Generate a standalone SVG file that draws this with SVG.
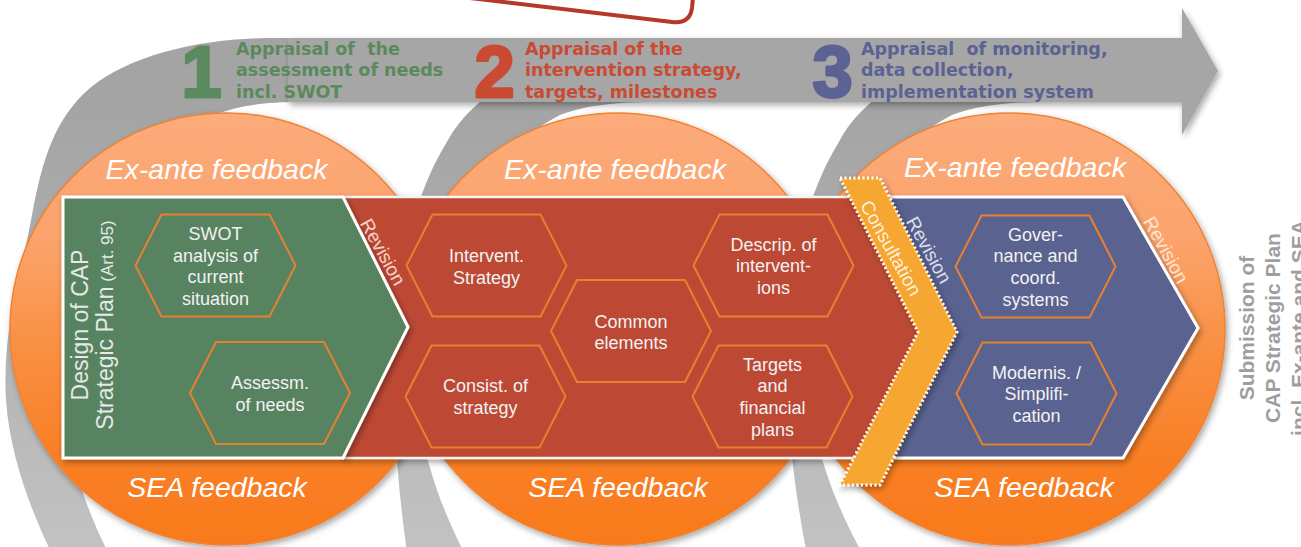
<svg xmlns="http://www.w3.org/2000/svg" xmlns:xlink="http://www.w3.org/1999/xlink" width="1301" height="547" viewBox="0 0 1301 547">
<defs>
  <linearGradient id="orangeGrad" x1="0" y1="0" x2="0" y2="1">
    <stop offset="0" stop-color="#FCAB7B"/>
    <stop offset="0.3" stop-color="#FBA36B"/>
    <stop offset="0.55" stop-color="#F98F42"/>
    <stop offset="0.8" stop-color="#F97F24"/>
    <stop offset="1" stop-color="#F97A1C"/>
  </linearGradient>
  <linearGradient id="arcGrad" gradientUnits="userSpaceOnUse" x1="0" y1="110" x2="0" y2="547">
    <stop offset="0" stop-color="#A4A4A4"/>
    <stop offset="1" stop-color="#C2C2C2"/>
  </linearGradient>
  <filter id="shadow" x="-10%" y="-10%" width="125%" height="125%">
    <feDropShadow dx="2" dy="3" stdDeviation="3" flood-color="#000000" flood-opacity="0.35"/>
  </filter>
  <polygon id="hex" points="-80,0 -54,-51 54,-51 80,0 54,51 -54,51"/>
</defs>
<style>
  .arc{fill:url(#arcGrad)}
  .band{fill:#A6A6A6}
  .circle{fill:url(#orangeGrad);stroke:#F08232;stroke-width:1.5}
  .hex{fill:none;stroke:#E8812F;stroke-width:2}
  .lbl{font-family:"Liberation Sans",Arial,sans-serif;font-size:18px;fill:#F2F2F2;text-anchor:middle}
  .fb{font-family:"Liberation Sans",Arial,sans-serif;font-size:28.5px;font-style:italic;fill:#FFFFFF;text-anchor:middle}
  .hdr{font-family:"DejaVu Sans",Verdana,sans-serif;font-weight:bold;font-size:17.5px}
  .num{font-family:"Liberation Sans",Arial,sans-serif;font-weight:bold;font-size:72px;text-anchor:middle;stroke-width:3;stroke-linejoin:round}
  .rev{font-family:"Liberation Sans",Arial,sans-serif;font-size:19px;text-anchor:middle}
  .side{font-family:"Liberation Sans",Arial,sans-serif;font-weight:bold;font-size:21px;fill:#9E9E9E;text-anchor:middle}
  .design{font-family:"Liberation Sans",Arial,sans-serif;font-size:23px;fill:#E6E9E6;text-anchor:middle}
</style>
<rect x="0" y="0" width="1301" height="547" fill="#FFFFFF"/>

<g id="connectors">
  <path id="arc1" class="arc" d="M 300,38 L 267,38 C 200,39 130,55 90,88 C 55,118 42,160 32,215 C 20,280 2,330 6,400 C 10,460 35,520 55,560 L 112,560 C 80,500 60,430 62,350 C 64,260 110,180 170,140 C 210,112 240,102 300,102 Z"/>
  <path id="arc2" class="arc" d="M 660,45 C 560,45 478,85 448,140 C 420,185 405,240 398,300 C 390,380 395,470 408,560 L 468,560 C 425,480 405,390 420,320 C 435,240 490,150 560,115 C 590,104 620,102 660,102 Z"/>
  <path id="arc3" class="arc" d="M 1052,45 C 952,45 870,85 840,140 C 812,185 797,240 790,300 C 782,380 790,470 808,560 L 866,560 C 820,480 797,390 812,320 C 827,240 882,150 952,115 C 982,104 1012,102 1052,102 Z"/>
  <path id="band" class="band" filter="url(#shadow)" d="M 288,38 L 1182,38 L 1182,8 L 1218,71 L 1182,135 L 1182,102 L 288,102 Z"/>
  <path id="topline" d="M 470,-2 L 672,22 Q 690,24 692,8 L 693,-3" fill="none" stroke="#B5392A" stroke-width="4" stroke-linecap="round"/>
</g>

<g id="circle1" filter="url(#shadow)"><circle class="circle" cx="226" cy="329" r="216"/></g>
<g id="circle2" filter="url(#shadow)"><circle class="circle" cx="617" cy="329" r="216"/></g>
<g id="circle3" filter="url(#shadow)"><circle class="circle" cx="1009" cy="329" r="216"/></g>

<g id="feedback-labels">
  <text class="fb" x="216.5" y="179">Ex-ante feedback</text>
  <text class="fb" x="615" y="179">Ex-ante feedback</text>
  <text class="fb" x="1015" y="177">Ex-ante feedback</text>
  <text class="fb" x="217" y="497">SEA feedback</text>
  <text class="fb" x="618" y="497">SEA feedback</text>
  <text class="fb" x="1024" y="497">SEA feedback</text>
</g>

<g id="phase-red" filter="url(#shadow)">
  <polygon points="343,197 868,197 937,332 868,458 343,458" fill="#BD4935" stroke="#F4F4F4" stroke-width="2.5"/>
</g>
<g id="phase-blue" filter="url(#shadow)">
  <polygon points="880,197 1123,197 1198,328 1123,458 885,458 945,330" fill="#5A628F" stroke="#FFFFFF" stroke-width="3"/>
</g>
<g id="phase-green" filter="url(#shadow)">
  <polygon points="63,197 343,197 408,327 343,458 63,458" fill="#588361" stroke="#FFFFFF" stroke-width="3"/>
</g>
<g id="consultation" filter="url(#shadow)">
  <polygon points="840,178 880,178 957,332 880,485 840,485 918,332" fill="#F5A733" stroke="#FFFFFF" stroke-width="3" stroke-dasharray="2 2.5"/>
  <text class="rev" fill="#FFF1DC" transform="translate(891,248) rotate(61)" dy="0.35em">Consultation</text>
</g>

<g id="design-label">
  <text class="design" transform="translate(88,325) rotate(-90)">Design of CAP</text>
  <text class="design" transform="translate(113,325) rotate(-90)">Strategic Plan<tspan font-size="17"> (Art. 95)</tspan></text>
</g>

<g id="hex-swot">
  <use xlink:href="#hex" href="#hex" class="hex" x="215.5" y="265.5"/>
  <text class="lbl"><tspan x="215.5" y="240">SWOT</tspan><tspan x="215.5" y="261.7">analysis of</tspan><tspan x="215.5" y="283.4">current</tspan><tspan x="215.5" y="305">situation</tspan></text>
</g>
<g id="hex-needs">
  <use xlink:href="#hex" href="#hex" class="hex" x="270" y="393"/>
  <text class="lbl"><tspan x="270" y="389">Assessm.</tspan><tspan x="270" y="410.5">of needs</tspan></text>
</g>
<g id="hex-intervent">
  <use xlink:href="#hex" href="#hex" class="hex" x="486.5" y="265.5"/>
  <text class="lbl"><tspan x="486.5" y="262">Intervent.</tspan><tspan x="486.5" y="284">Strategy</tspan></text>
</g>
<g id="hex-consist">
  <use xlink:href="#hex" href="#hex" class="hex" x="485.5" y="396.5"/>
  <text class="lbl"><tspan x="485.5" y="392">Consist. of</tspan><tspan x="485.5" y="414">strategy</tspan></text>
</g>
<g id="hex-common">
  <use xlink:href="#hex" href="#hex" class="hex" x="631" y="331"/>
  <text class="lbl"><tspan x="631" y="327.5">Common</tspan><tspan x="631" y="349.2">elements</tspan></text>
</g>
<g id="hex-descrip">
  <use xlink:href="#hex" href="#hex" class="hex" x="773.5" y="265.5"/>
  <text class="lbl"><tspan x="773.5" y="250.5">Descrip. of</tspan><tspan x="773.5" y="272.2">intervent-</tspan><tspan x="773.5" y="294">ions</tspan></text>
</g>
<g id="hex-targets">
  <use xlink:href="#hex" href="#hex" class="hex" x="772.5" y="396.5"/>
  <text class="lbl"><tspan x="772.5" y="370.5">Targets</tspan><tspan x="772.5" y="392.2">and</tspan><tspan x="772.5" y="414">financial</tspan><tspan x="772.5" y="435.6">plans</tspan></text>
</g>
<g id="hex-governance">
  <use xlink:href="#hex" href="#hex" class="hex" x="1035.5" y="266.5"/>
  <text class="lbl"><tspan x="1035.5" y="240.5">Gover-</tspan><tspan x="1035.5" y="262.2">nance and</tspan><tspan x="1035.5" y="284">coord.</tspan><tspan x="1035.5" y="305.6">systems</tspan></text>
</g>
<g id="hex-modernis">
  <use xlink:href="#hex" href="#hex" class="hex" x="1036.5" y="393.5"/>
  <text class="lbl"><tspan x="1036.5" y="378.5">Modernis. /</tspan><tspan x="1036.5" y="400.2">Simplifi-</tspan><tspan x="1036.5" y="422">cation</tspan></text>
</g>

<g id="revision-labels">
  <text class="rev" fill="#F6D3C9" transform="translate(383,252) rotate(61)" dy="0.35em">Revision</text>
  <text class="rev" fill="#DCDEEC" transform="translate(929,250) rotate(61)" dy="0.35em">Revision</text>
  <text class="rev" fill="#FFE6D6" transform="translate(1166,250) rotate(61)" dy="0.35em">Revision</text>
</g>

<g id="step1">
  <text class="num" x="201.5" y="96.5" fill="#5A8A5E" stroke="#5A8A5E">1</text>
  <text class="hdr" fill="#5A8A5C" xml:space="preserve"><tspan x="236" y="54.5">Appraisal of  the</tspan><tspan x="236" y="76">assessment of needs</tspan><tspan x="236" y="97.5">incl. SWOT</tspan></text>
</g>
<g id="step2">
  <text class="num" x="494.5" y="96.5" fill="#C94B33" stroke="#C94B33">2</text>
  <text class="hdr" fill="#C94B33"><tspan x="525" y="54.5">Appraisal of the</tspan><tspan x="525" y="76">intervention strategy,</tspan><tspan x="525" y="97.5">targets, milestones</tspan></text>
</g>
<g id="step3">
  <text class="num" x="832.5" y="96.5" fill="#5B6294" stroke="#5B6294">3</text>
  <text class="hdr" fill="#5B6294" xml:space="preserve"><tspan x="861" y="54.5">Appraisal  of monitoring,</tspan><tspan x="861" y="76">data collection,</tspan><tspan x="861" y="97.5">implementation system</tspan></text>
</g>

<g id="submission">
  <text class="side" transform="translate(1254,328) rotate(-90)">Submission of</text>
  <text class="side" transform="translate(1280,328) rotate(-90)">CAP Strategic Plan</text>
  <text class="side" transform="translate(1306,328) rotate(-90)">incl. Ex-ante and SEA</text>
</g>
</svg>
